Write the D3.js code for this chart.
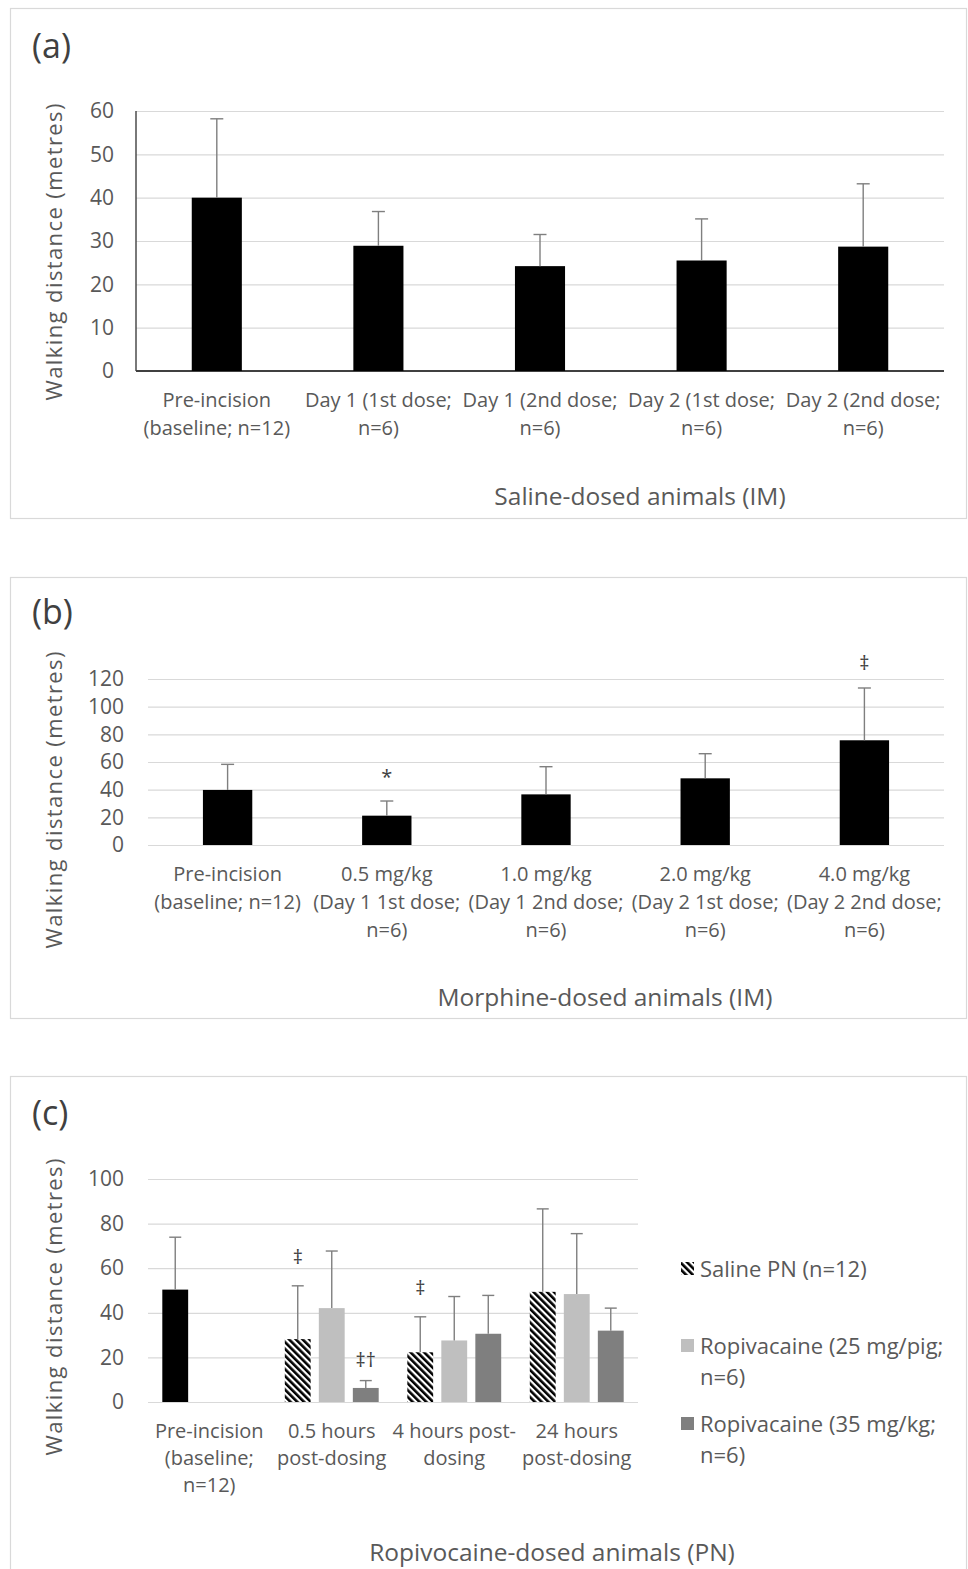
<!DOCTYPE html>
<html><head><meta charset="utf-8">
<script src="https://cdn.jsdelivr.net/npm/d3@7/dist/d3.min.js"></script>
<style>
body{margin:0;background:#fff}
svg{display:block;font-family:"Open Sans",sans-serif}
</style>
</head><body>
<svg id="chart" width="968" height="1569"></svg>
<script>
// ---------- DATA ----------
// Panel (a) saline IM
const catsA = [["Pre-incision","(baseline; n=12)"],["Day 1 (1st dose;","n=6)"],["Day 1 (2nd dose;","n=6)"],["Day 2 (1st dose;","n=6)"],["Day 2 (2nd dose;","n=6)"]];
const meanA = [40.0, 28.9, 24.2, 25.5, 28.7];
const sdA   = [18.2, 7.9, 7.3, 9.6, 14.5];
const ticksA = [0,10,20,30,40,50,60];

// Panel (b) morphine IM
const catsB = [["Pre-incision","(baseline; n=12)"],["0.5 mg/kg","(Day 1 1st dose;","n=6)"],["1.0 mg/kg","(Day 1 2nd dose;","n=6)"],["2.0 mg/kg","(Day 2 1st dose;","n=6)"],["4.0 mg/kg","(Day 2 2nd dose;","n=6)"]];
const meanB = [39.8, 21.2, 36.6, 48.2, 75.7];
const sdB   = [18.5, 10.6, 20.0, 17.8, 37.8];
const annB  = ["", "*", "", "", "‡"];
const ticksB = [0,20,40,60,80,100,120];

// Panel (c) ropivacaine PN
const catsC = [["Pre-incision","(baseline;","n=12)"],["0.5 hours","post-dosing"],["4 hours post-","dosing"],["24 hours","post-dosing"]];
const seriesC = ["Saline PN (n=12)", "Ropivacaine (25 mg/pig; n=6)", "Ropivacaine (35 mg/kg; n=6)"];
const legendLinesC = [["Saline PN (n=12)"],["Ropivacaine (25 mg/pig;","n=6)"],["Ropivacaine (35 mg/kg;","n=6)"]];
const salineC = [50.4, 28.2, 22.3, 49.4];
const salineSdC = [23.5, 23.9, 15.9, 37.2];
const ropi25C = [null, 42.1, 27.6, 48.4];
const ropi25SdC = [null, 25.6, 19.7, 27.1];
const ropi35C = [null, 6.3, 30.6, 32.0];
const ropi35SdC = [null, 3.3, 17.2, 10.1];
const annSalineC = ["", "‡", "‡", ""];
const annRopi35C = ["", "‡†", "", ""];
const ticksC = [0,20,40,60,80,100];

// ---------- DRAWING ----------
const svg = d3.select("#chart");
const textCol = "#595959";
const gridCol = "#d9d9d9";
const errCol = "#7f7f7f";

const defs = svg.append("defs");
const pat = defs.append("pattern").attr("id","hatch").attr("patternUnits","userSpaceOnUse")
  .attr("width",4.8).attr("height",4.8).attr("patternTransform","rotate(-45)");
pat.append("rect").attr("width",4.8).attr("height",4.8).attr("fill","#fff");
pat.append("rect").attr("width",2.6).attr("height",4.8).attr("fill","#000");

function frame(y0, h){
  svg.append("rect").attr("x",10.5).attr("y",y0+0.5).attr("width",956).attr("height",h)
    .attr("fill","none").attr("stroke",gridCol).attr("stroke-width",1.2);
}
function panelLabel(t, y){
  svg.append("text").attr("x",32).attr("y",y).attr("font-size",34).attr("fill","#404040").text(t);
}
function yTitle(cy){
  svg.append("text").attr("transform",`translate(53,${cy}) rotate(-90)`).attr("text-anchor","middle")
    .attr("dominant-baseline","central").attr("font-size",22).attr("fill",textCol)
    .attr("textLength",297).attr("lengthAdjust","spacing").text("Walking distance (metres)");
}
function xTitle(t, cx, y){
  svg.append("text").attr("x",cx).attr("y",y).attr("text-anchor","middle").attr("font-size",24.5)
    .attr("fill",textCol).text(t);
}
function tickLabels(y, ticks, labelRight){
  svg.append("g").attr("transform",`translate(${labelRight},0)`)
    .call(d3.axisLeft(y).tickValues(ticks).tickSize(0).tickPadding(0))
    .call(s=>s.select(".domain").remove())
    .call(s=>s.selectAll(".tick text").attr("font-size",21).attr("font-family","Open Sans")
      .attr("fill",textCol).attr("text-anchor","end"));
}
function grid(y, x0, x1, ticks){
  svg.append("g").attr("transform",`translate(${x0},0)`)
   .call(d3.axisLeft(y).tickValues(ticks).tickSize(-(x1-x0)).tickFormat(""))
   .call(s=>s.select(".domain").remove())
   .call(s=>s.selectAll(".tick line").attr("stroke",gridCol).attr("stroke-width",1.2));
}
function catLabels(x, cats, y0, step){
  cats.forEach((lines,i)=>{
    const t = svg.append("text").attr("text-anchor","middle").attr("font-size",20).attr("fill",textCol);
    lines.forEach((l,j)=>t.append("tspan").attr("x",x(i)).attr("y",y0+j*step).text(l));
  });
}
function errBars(xc, y, means, sds, cap){
  const idx = d3.range(means.length).filter(i=>means[i]!=null);
  const g = svg.append("g").attr("stroke",errCol).attr("stroke-width",1.4);
  idx.forEach(i=>{
    const cx = xc(i), yt = y(means[i]+sds[i]), yb = y(means[i]);
    g.append("line").attr("x1",cx).attr("x2",cx).attr("y1",yb).attr("y2",yt);
    g.append("line").attr("x1",cx-cap/2).attr("x2",cx+cap/2).attr("y1",yt).attr("y2",yt);
  });
}
function annotations(xc, y, means, sds, anns, off){
  anns.forEach((a,i)=>{
    if(!a) return;
    svg.append("text").attr("x",xc(i)).attr("y",y(means[i]+sds[i])-off).attr("text-anchor","middle")
      .attr("dominant-baseline","central").attr("font-size",20).attr("fill","#404040").text(a);
  });
}

// ----- Panel (a) -----
frame(8, 510);
panelLabel("(a)", 58);
{
  const x0=136, x1=944;
  const x = d3.scaleBand().domain(d3.range(catsA.length)).range([x0,x1]).paddingInner(0.69).paddingOuter(0.345);
  const y = d3.scaleLinear().domain([0,60]).range([371,111]);
  grid(y, x0, x1, ticksA.filter(t=>t>0));
  tickLabels(y, ticksA, 114);
  svg.append("g").selectAll("rect").data(meanA).join("rect")
    .attr("x",(d,i)=>x(i)).attr("width",x.bandwidth()).attr("y",d=>y(d)).attr("height",d=>y(0)-y(d)).attr("fill","#000");
  errBars(i=>x(i)+x.bandwidth()/2, y, meanA, sdA, 13);
  svg.append("line").attr("x1",x0).attr("x2",x1).attr("y1",y(0)).attr("y2",y(0)).attr("stroke","#000").attr("stroke-width",1.4);
  svg.append("line").attr("x1",x0).attr("x2",x0).attr("y1",y(60)).attr("y2",y(0)).attr("stroke","#404040").attr("stroke-width",1.4);
  catLabels(i=>x(i)+x.bandwidth()/2, catsA, 407, 28);
  yTitle(252);
  xTitle("Saline-dosed animals (IM)", 640, 505);
}

// ----- Panel (b) -----
frame(577, 441);
panelLabel("(b)", 624);
{
  const x0=148, x1=944;
  const x = d3.scaleBand().domain(d3.range(catsB.length)).range([x0,x1]).paddingInner(0.69).paddingOuter(0.345);
  const y = d3.scaleLinear().domain([0,120]).range([845,679]);
  grid(y, x0, x1, ticksB);
  tickLabels(y, ticksB, 124);
  svg.append("g").selectAll("rect").data(meanB).join("rect")
    .attr("x",(d,i)=>x(i)).attr("width",x.bandwidth()).attr("y",d=>y(d)).attr("height",d=>y(0)-y(d)).attr("fill","#000");
  const xc = i=>x(i)+x.bandwidth()/2;
  errBars(xc, y, meanB, sdB, 13);
  annotations(xc, y, meanB, sdB, annB, 25);
  catLabels(xc, catsB, 881, 28);
  yTitle(800);
  xTitle("Morphine-dosed animals (IM)", 605, 1006);
}

// ----- Panel (c) -----
frame(1076, 600);
panelLabel("(c)", 1125);
{
  const x0=148, x1=638;
  const x = d3.scaleBand().domain(d3.range(catsC.length)).range([x0,x1]).paddingInner(0.167).paddingOuter(0.0835);
  const xs = d3.scaleBand().domain([0,1,2]).range([0,x.bandwidth()]).paddingInner(0.24).paddingOuter(0.12);
  const y = d3.scaleLinear().domain([0,100]).range([1402,1179]);
  grid(y, x0, x1, ticksC);
  tickLabels(y, ticksC, 124);
  const fills = ["url(#hatch)", "#bfbfbf", "#7f7f7f"];
  const means = [salineC, ropi25C, ropi35C];
  const sds = [salineSdC, ropi25SdC, ropi35SdC];
  means.forEach((m,s)=>{
    svg.append("g").selectAll("rect").data(m.map((v,i)=>({v,i})).filter(d=>d.v!=null)).join("rect")
      .attr("x",d=>x(d.i)+xs(s)).attr("width",xs.bandwidth())
      .attr("y",d=>y(d.v)).attr("height",d=>y(0)-y(d.v))
      .attr("fill",d=>(s===0 && d.i===0) ? "#000" : fills[s]);
  });
  means.forEach((m,s)=>{
    errBars(i=>x(i)+xs(s)+xs.bandwidth()/2, y, m, sds[s], 12);
  });
  annotations(i=>x(i)+xs(0)+xs.bandwidth()/2, y, salineC, salineSdC, annSalineC, 29);
  annotations(i=>x(i)+xs(2)+xs.bandwidth()/2, y, ropi35C, ropi35SdC, annRopi35C, 21);
  catLabels(i=>x(i)+x.bandwidth()/2, catsC, 1438, 27);
  yTitle(1307);
  xTitle("Ropivocaine-dosed animals (PN)", 552, 1561);

  // legend
  const legY = [1269, 1346, 1424];
  legendLinesC.forEach((lines,s)=>{
    svg.append("rect").attr("x",681).attr("y",legY[s]-7).attr("width",13).attr("height",13).attr("fill",fills[s]);
    const t = svg.append("text").attr("font-size",22).attr("fill",textCol);
    lines.forEach((l,j)=>t.append("tspan").attr("x",700).attr("y",legY[s]+8+j*31).text(l));
  });
}
</script>
</body></html>
